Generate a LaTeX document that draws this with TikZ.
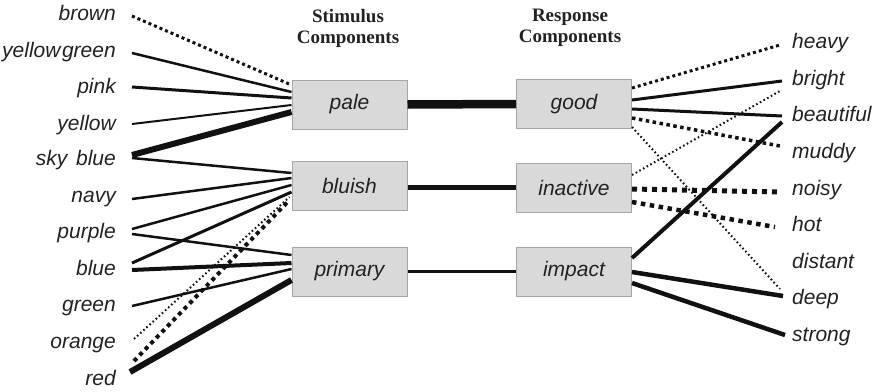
\documentclass[tikz,border=0pt]{standalone}
\usepackage{fontspec}
\setmainfont{Liberation Sans}
\newfontfamily\hdrfont{Liberation Serif}
\definecolor{boxfill}{HTML}{D9D9D9}
\definecolor{boxline}{HTML}{A6A6A6}
\definecolor{ink}{HTML}{111111}
\definecolor{txt}{HTML}{222222}
\begin{document}
\begin{tikzpicture}[x=1pt,y=-1pt,
  comp/.style={draw=boxline,line width=1pt,fill=boxfill,minimum width=115pt,minimum height=49pt,inner sep=0pt,
     font=\itshape\fontsize{21}{24}\selectfont,text=txt},
  lword/.style={anchor=mid east,inner sep=0pt,font=\itshape\fontsize{21}{24}\selectfont,text=txt},
  rword/.style={anchor=mid west,inner sep=0pt,font=\itshape\fontsize{21}{24}\selectfont,text=txt},
  hdr/.style={align=center,font=\hdrfont\bfseries\fontsize{19}{21}\selectfont,text=txt},
  lk/.style={draw=ink,line width=#1},
  sqdot/.style={draw=ink,line width=#1,dash pattern=on #1 off #1},
  finedot/.style={draw=ink,line width=2pt,dash pattern=on 1.6pt off 2.6pt},
]
\useasboundingbox (0,0) rectangle (880,391);
% headers
\node[hdr] (hs) at (348,28) {Stimulus\\Components};
\node[hdr] (hr) at (570,28) {Response\\Components};
% component boxes
\node[comp] (pale) at (349.5,104.5) {pale};
\node[comp] (bluish) at (349.5,186) {bluish};
\node[comp] (primary) at (349.5,271.5) {primary};
\node[comp] (good) at (574,104) {good};
\node[comp] (inactive) at (574,188) {inactive};
\node[comp] (impact) at (574,271.5) {impact};
% left words
\node[lword] (brown) at (116,17.5) {brown};
\node[lword] (ygreen) at (116,54.5) {yellow\kern1.5pt green};
\node[lword] (pink) at (116,90.5) {pink};
\node[lword] (yellow) at (116,127.5) {yellow};
\node[lword] (sky) at (116,162.5) {sky\kern3pt\ blue};
\node[lword] (navy) at (116,199.5) {navy};
\node[lword] (purple) at (116,235.5) {purple};
\node[lword] (blue) at (116,272.5) {blue};
\node[lword] (green) at (116,308.5) {green};
\node[lword] (orange) at (116,345.5) {orange};
\node[lword] (red) at (116,382.5) {red};
% right words
\node[rword] (heavy) at (792,45.5) {heavy};
\node[rword] (bright) at (792,82.5) {bright};
\node[rword] (beautiful) at (792,118.5) {beautiful};
\node[rword] (muddy) at (792,155.5) {muddy};
\node[rword] (noisy) at (792,192.5) {noisy};
\node[rword] (hot) at (792,228.5) {hot};
\node[rword] (distant) at (792,265.5) {distant};
\node[rword] (deep) at (792,301.5) {deep};
\node[rword] (strong) at (792,338.5) {strong};
% middle links
\draw[lk=8.5pt] (pale.east) -- (good.west);
\draw[lk=5.5pt] ([yshift=-1.5pt]bluish.east) -- ([yshift=0.5pt]inactive.west);
\draw[lk=3pt] (primary.east) -- (impact.west);
% left links
\draw[sqdot=3pt] ([xshift=16pt,yshift=1.5pt]brown.mid east) -- ([yshift=19.5pt]pale.west);
\draw[lk=2.5pt] ([xshift=16pt,yshift=1.5pt]ygreen.mid east) -- ([yshift=12.5pt]pale.west);
\draw[lk=3pt] ([xshift=16pt,yshift=3.5pt]pink.mid east) -- ([yshift=6.5pt]pale.west);
\draw[lk=2pt] ([xshift=16pt,yshift=3.5pt]yellow.mid east) -- ([yshift=-0.5pt]pale.west);
\draw[lk=6pt] ([xshift=16pt,yshift=7.5pt]sky.mid east) -- ([yshift=-7.5pt]pale.west);
\draw[lk=2.5pt] ([xshift=16pt,yshift=4.5pt]sky.mid east) -- ([yshift=13pt]bluish.west);
\draw[lk=2.5pt] ([xshift=16pt,yshift=0.5pt]navy.mid east) -- ([yshift=8pt]bluish.west);
\draw[lk=2.5pt] ([xshift=16pt,yshift=6.5pt]purple.mid east) -- ([yshift=1pt]bluish.west);
\draw[lk=2.5pt] ([xshift=16pt,yshift=1.5pt]purple.mid east) -- ([yshift=16.5pt]primary.west);
\draw[lk=3pt] ([xshift=16pt,yshift=9.5pt]blue.mid east) -- ([yshift=-6pt]bluish.west);
\draw[lk=4pt] ([xshift=16pt,yshift=2.5pt]blue.mid east) -- ([yshift=8.5pt]primary.west);
\draw[lk=2.5pt] ([xshift=16pt,yshift=2.5pt]green.mid east) -- ([yshift=2.5pt]primary.west);
\draw[finedot] ([xshift=18pt,yshift=6.5pt]orange.mid east) -- ([xshift=-2pt,yshift=-11pt]bluish.west);
\draw[sqdot=4pt] ([xshift=18pt,yshift=21.5pt]red.mid east) -- ([xshift=-2pt,yshift=-14pt]bluish.west);
\draw[lk=6pt] ([xshift=14pt,yshift=10.5pt]red.mid east) -- ([yshift=-8.5pt]primary.west);
% right links
\draw[sqdot=3pt] ([yshift=16pt]good.east) -- ([xshift=-12pt,yshift=0.5pt]heavy.mid west);
\draw[lk=3pt] ([yshift=4pt]good.east) -- ([xshift=-10pt,yshift=1.5pt]bright.mid west);
\draw[lk=3pt] ([yshift=-5pt]good.east) -- ([xshift=-10pt,yshift=2.5pt]beautiful.mid west);
\draw[sqdot=3.5pt] ([yshift=-14pt]good.east) -- ([xshift=-12pt,yshift=9.5pt]muddy.mid west);
\draw[finedot] ([yshift=-23pt]good.east) -- ([xshift=-12pt,yshift=12.5pt]deep.mid west);
\draw[finedot] ([yshift=13pt]inactive.east) -- ([xshift=-12pt,yshift=-8.5pt]bright.mid west);
\draw[sqdot=5pt] ([yshift=-1pt]inactive.east) -- ([xshift=-12pt,yshift=0.5pt]noisy.mid west);
\draw[sqdot=4.5pt] ([yshift=-14pt]inactive.east) -- ([xshift=-17pt,yshift=1.5pt]hot.mid west);
\draw[lk=4pt] ([yshift=13.5pt]impact.east) -- ([xshift=-10pt,yshift=-3.5pt]beautiful.mid west);
\draw[lk=4.5pt] ([yshift=-0.5pt]impact.east) -- ([xshift=-9pt,yshift=5.5pt]deep.mid west);
\draw[lk=4.5pt] ([yshift=-11.5pt]impact.east) -- ([xshift=-7pt,yshift=3.5pt]strong.mid west);
\end{tikzpicture}
\end{document}
